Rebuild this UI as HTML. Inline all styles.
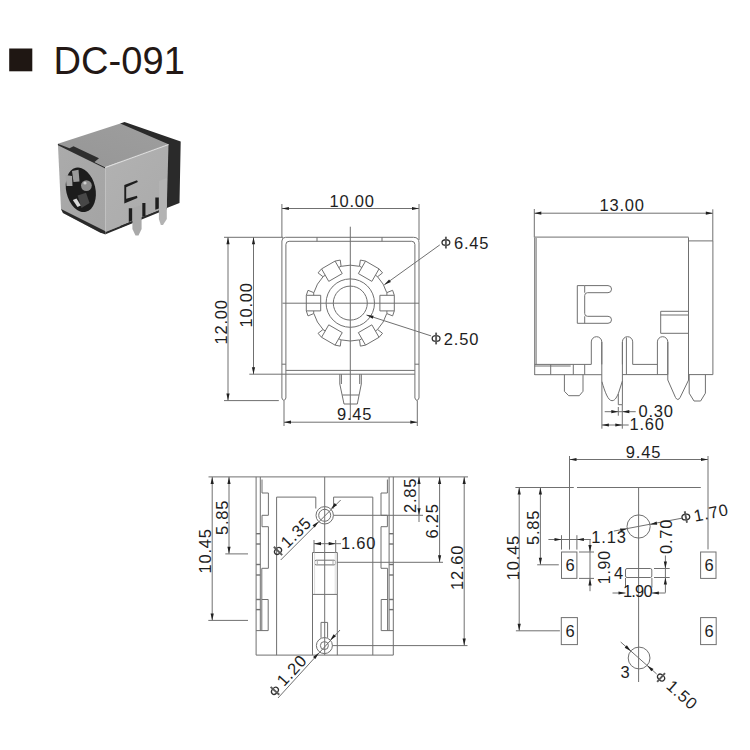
<!DOCTYPE html>
<html><head><meta charset="utf-8"><style>
html,body{margin:0;padding:0;background:#fff;width:750px;height:750px;overflow:hidden}
svg{display:block;font-family:"Liberation Sans",sans-serif}
</style></head><body>
<svg width="750" height="750" viewBox="0 0 750 750">
<rect x="9.2" y="48.5" width="23.1" height="22.8" fill="#1f1713"/><text x="53.6" y="73.6" font-size="38.1" fill="#231815" letter-spacing="0">DC-091</text>
<defs><linearGradient id="gf" x1="0" y1="0" x2="1" y2="1"><stop offset="0" stop-color="#ababab"/><stop offset="1" stop-color="#a4a4a4"/></linearGradient><linearGradient id="gt" x1="0" y1="1" x2="1" y2="0"><stop offset="0" stop-color="#969696"/><stop offset="1" stop-color="#9e9e9e"/></linearGradient><linearGradient id="gs" x1="0" y1="0" x2="1" y2="1"><stop offset="0" stop-color="#b2b2b2"/><stop offset="1" stop-color="#aaaaaa"/></linearGradient></defs>
<polygon points="120.3,123.5 124.5,121.9 180.7,141.5 179.5,203 166.8,208 120,228" fill="#2a2a2a"/>
<polygon points="57.9,143.8 120.3,123.5 168.5,144.3 105.3,167.3" fill="url(#gt)"/>
<polygon points="57.9,143.8 105.3,167.3 105.5,232 100,232.5 63,213 61,209" fill="url(#gf)"/>
<polygon points="57.9,143.8 69.5,148.2 73.5,146.3 99,158.3 94.5,162 105.3,167.3 105.3,168.6 57.9,145.2" fill="#2e2e2e"/>
<polygon points="61,209 63,213 100,232.5 105.5,234.5 105.5,231.2" fill="#2a2a2a"/>
<polygon points="105.3,167.3 168.5,144.3 166.8,207.3 105.5,232" fill="url(#gs)"/>
<polygon points="105.5,232 166.8,207.3 166.8,209.3 105.5,234.2" fill="#2a2a2a"/>
<polyline points="105.3,167.6 168.5,144.6" stroke="#dedede" stroke-width="1.1" fill="none"/>
<ellipse cx="80.8" cy="189.8" rx="14.6" ry="22.6" transform="rotate(-13 80.8 189.8)" fill="#1c1c1c"/>
<polygon points="65.5,175 72,176 72.5,186 66.5,186" fill="#a4a4a4"/>
<polygon points="72,171 78.5,169.8 79.5,181.5 73.5,182" fill="#9a9a9a"/>
<circle cx="86.4" cy="185.6" r="5.4" fill="#8c8c8c"/><circle cx="85" cy="183" r="1.6" fill="#d0d0d0"/>
<polygon points="77.6,195.5 86,192.8 89.6,203 81.5,208" fill="#474747"/>
<polygon points="72.8,200 76.5,198.6 80.8,205.5 77.5,207" fill="#d8d8d8"/>
<polygon points="124.3,185 137,180.3 137.9,182.1 126.2,187.3 126.2,198.8 137,195.7 137.4,198 124.3,203.6" fill="#1e1e1e"/>
<polygon points="128.8,208.3 132.4,208.3 132.4,220.6 128.8,222" fill="#1e1e1e"/>
<polygon points="142.3,203.1 145.9,203.1 145.9,215.5 142.3,217" fill="#1e1e1e"/>
<polygon points="155.3,197.5 158.9,197.5 158.9,208.4 155.3,209.8" fill="#1e1e1e"/>
<polygon points="132.4,208.3 132.4,229 135.5,235.4 138.5,235.4 141.6,229 141.6,205" fill="#a9a9a9"/>
<polygon points="145.5,203.1 151.9,200.5 151.9,212 145.5,215" fill="#acacac"/>
<polygon points="158.9,181 158.9,219 160.8,225.1 163,225.1 166.8,219 166.8,178" fill="#b3b3b3"/>
<g>
<line x1="281.90" y1="204.00" x2="281.90" y2="237.30" stroke="#707070" stroke-width="1.0"/>
<line x1="419.00" y1="204.00" x2="419.00" y2="240.00" stroke="#707070" stroke-width="1.0"/>
<line x1="281.90" y1="208.50" x2="419.00" y2="208.50" stroke="#707070" stroke-width="1.0"/>
<polygon points="281.90,208.50 288.90,206.90 288.90,210.10" fill="#202020"/>
<polygon points="419.00,208.50 412.00,210.10 412.00,206.90" fill="#202020"/>
<text x="329.50" y="206.80" font-size="16.5" letter-spacing="0.8" text-anchor="start" fill="#1e1e1e">10.00</text>
<path d="M281.9,398 L281.9,241 Q281.9,237.3 285.5,237.3 L413.5,237.3 Q419,237.3 419,242.8 L419,398" fill="none" stroke="#707070" stroke-width="1.0"/>
<path d="M285.9,398 L285.9,244.5 Q285.9,241.3 289.1,241.3 L411.7,241.3 Q414.9,241.3 414.9,244.5 L414.9,398" fill="none" stroke="#707070" stroke-width="1.0"/>
<path d="M281.9,398 Q283.9,403 285.9,398" fill="none" stroke="#707070" stroke-width="1.0"/>
<path d="M414.9,398 Q417,403 419,398" fill="none" stroke="#707070" stroke-width="1.0"/>
<line x1="281.90" y1="364.20" x2="285.90" y2="364.20" stroke="#707070" stroke-width="1.0"/>
<line x1="414.90" y1="364.20" x2="419.00" y2="364.20" stroke="#707070" stroke-width="1.0"/>
<line x1="317.00" y1="237.30" x2="317.00" y2="241.30" stroke="#707070" stroke-width="1.0"/>
<line x1="382.00" y1="237.30" x2="382.00" y2="241.30" stroke="#707070" stroke-width="1.0"/>
<line x1="224.00" y1="237.30" x2="283.00" y2="237.30" stroke="#707070" stroke-width="1.0"/>
<line x1="285.90" y1="370.40" x2="414.90" y2="370.40" stroke="#707070" stroke-width="1.0"/>
<line x1="249.30" y1="374.20" x2="414.90" y2="374.20" stroke="#707070" stroke-width="1.0"/>
<line x1="224.00" y1="400.60" x2="278.80" y2="400.60" stroke="#707070" stroke-width="1.0"/>
<polyline points="339.80,374.20 339.80,384.00 344.00,404.00 357.30,404.00 361.30,384.00 361.30,374.20" fill="none" stroke="#707070" stroke-width="1.0"/>
<polyline points="341.40,374.20 341.40,384.00" fill="none" stroke="#707070" stroke-width="1.0"/>
<polyline points="359.70,374.20 359.70,384.00" fill="none" stroke="#707070" stroke-width="1.0"/>
<line x1="342.30" y1="395.00" x2="359.00" y2="395.00" stroke="#707070" stroke-width="1.0"/>
<line x1="350.30" y1="226.70" x2="350.30" y2="420.00" stroke="#707070" stroke-width="1.0"/>
<line x1="282.50" y1="303.20" x2="419.00" y2="303.20" stroke="#707070" stroke-width="1.0"/>
<circle cx="350.30" cy="303.10" r="24.20" fill="none" stroke="#707070" stroke-width="1.0"/>
<circle cx="350.30" cy="303.10" r="17.00" fill="none" stroke="#707070" stroke-width="1.0"/>
<polygon points="379.90,295.30 394.30,295.30 394.30,310.90 379.90,310.90" fill="none" stroke="#707070" stroke-width="1.0"/>
<polyline points="394.30,295.30 392.60,290.30 386.90,292.60 386.90,295.30" fill="none" stroke="#707070" stroke-width="1.0"/>
<polyline points="394.30,310.90 392.60,315.90 386.90,313.60 386.90,310.90" fill="none" stroke="#707070" stroke-width="1.0"/>
<path d="M386.73,292.65 A37.9,37.9 0 0 0 377.57,276.78" fill="none" stroke="#707070" stroke-width="1.0"/>
<polygon points="358.35,273.57 365.55,261.09 379.05,268.89 371.85,281.37" fill="none" stroke="#707070" stroke-width="1.0"/>
<polyline points="365.55,261.09 360.36,260.07 359.51,266.15 361.85,267.50" fill="none" stroke="#707070" stroke-width="1.0"/>
<polyline points="379.05,268.89 382.54,272.87 377.69,276.65 375.35,275.30" fill="none" stroke="#707070" stroke-width="1.0"/>
<path d="M359.46,266.32 A37.9,37.9 0 0 0 341.14,266.32" fill="none" stroke="#707070" stroke-width="1.0"/>
<polygon points="328.75,281.37 321.55,268.89 335.05,261.09 342.25,273.57" fill="none" stroke="#707070" stroke-width="1.0"/>
<polyline points="321.55,268.89 318.06,272.87 322.91,276.65 325.25,275.30" fill="none" stroke="#707070" stroke-width="1.0"/>
<polyline points="335.05,261.09 340.24,260.07 341.09,266.15 338.75,267.50" fill="none" stroke="#707070" stroke-width="1.0"/>
<path d="M323.03,276.78 A37.9,37.9 0 0 0 313.87,292.65" fill="none" stroke="#707070" stroke-width="1.0"/>
<polygon points="320.70,310.90 306.30,310.90 306.30,295.30 320.70,295.30" fill="none" stroke="#707070" stroke-width="1.0"/>
<polyline points="306.30,310.90 308.00,315.90 313.70,313.60 313.70,310.90" fill="none" stroke="#707070" stroke-width="1.0"/>
<polyline points="306.30,295.30 308.00,290.30 313.70,292.60 313.70,295.30" fill="none" stroke="#707070" stroke-width="1.0"/>
<path d="M313.87,313.55 A37.9,37.9 0 0 0 323.03,329.42" fill="none" stroke="#707070" stroke-width="1.0"/>
<polygon points="342.25,332.63 335.05,345.11 321.55,337.31 328.75,324.83" fill="none" stroke="#707070" stroke-width="1.0"/>
<polyline points="335.05,345.11 340.24,346.13 341.09,340.05 338.75,338.70" fill="none" stroke="#707070" stroke-width="1.0"/>
<polyline points="321.55,337.31 318.06,333.33 322.91,329.55 325.25,330.90" fill="none" stroke="#707070" stroke-width="1.0"/>
<path d="M341.14,339.88 A37.9,37.9 0 0 0 359.46,339.88" fill="none" stroke="#707070" stroke-width="1.0"/>
<polygon points="371.85,324.83 379.05,337.31 365.55,345.11 358.35,332.63" fill="none" stroke="#707070" stroke-width="1.0"/>
<polyline points="379.05,337.31 382.54,333.33 377.69,329.55 375.35,330.90" fill="none" stroke="#707070" stroke-width="1.0"/>
<polyline points="365.55,345.11 360.36,346.13 359.51,340.05 361.85,338.70" fill="none" stroke="#707070" stroke-width="1.0"/>
<path d="M377.57,329.42 A37.9,37.9 0 0 0 386.73,313.55" fill="none" stroke="#707070" stroke-width="1.0"/>
<line x1="439.80" y1="244.90" x2="384.30" y2="284.80" stroke="#707070" stroke-width="1.0"/>
<polygon points="384.30,284.80 389.05,279.41 390.92,282.01" fill="#202020"/>
<line x1="431.10" y1="335.90" x2="366.50" y2="315.00" stroke="#707070" stroke-width="1.0"/>
<polygon points="366.50,315.00 373.65,315.63 372.67,318.68" fill="#202020"/>
<g><ellipse cx="445.90" cy="242.60" rx="3.9" ry="2.85" fill="none" stroke="#303030" stroke-width="1.3"/><line x1="445.90" y1="236.70" x2="445.90" y2="248.50" stroke="#5a5a5a" stroke-width="1.9"/></g>
<text x="454.00" y="248.60" font-size="16.5" letter-spacing="0.8" text-anchor="start" fill="#1e1e1e">6.45</text>
<g><ellipse cx="436.10" cy="338.50" rx="3.9" ry="2.85" fill="none" stroke="#303030" stroke-width="1.3"/><line x1="436.10" y1="332.60" x2="436.10" y2="344.40" stroke="#5a5a5a" stroke-width="1.9"/></g>
<text x="443.80" y="344.90" font-size="16.5" letter-spacing="0.8" text-anchor="start" fill="#1e1e1e">2.50</text>
<line x1="228.00" y1="237.30" x2="228.00" y2="400.60" stroke="#707070" stroke-width="1.0"/>
<polygon points="228.00,237.30 229.60,244.30 226.40,244.30" fill="#202020"/>
<polygon points="228.00,400.60 226.40,393.60 229.60,393.60" fill="#202020"/>
<line x1="253.50" y1="237.30" x2="253.50" y2="374.20" stroke="#707070" stroke-width="1.0"/>
<polygon points="253.50,237.30 255.10,244.30 251.90,244.30" fill="#202020"/>
<polygon points="253.50,374.20 251.90,367.20 255.10,367.20" fill="#202020"/>
<text x="227.00" y="344.50" font-size="16.5" letter-spacing="0.8" text-anchor="start" fill="#1e1e1e" transform="rotate(-90 227.00 344.50)">12.00</text>
<text x="251.80" y="327.50" font-size="16.5" letter-spacing="0.8" text-anchor="start" fill="#1e1e1e" transform="rotate(-90 251.80 327.50)">10.00</text>
<line x1="284.00" y1="401.00" x2="284.00" y2="426.00" stroke="#707070" stroke-width="1.0"/>
<line x1="417.30" y1="401.00" x2="417.30" y2="426.00" stroke="#707070" stroke-width="1.0"/>
<line x1="284.00" y1="422.20" x2="417.30" y2="422.20" stroke="#707070" stroke-width="1.0"/>
<polygon points="284.00,422.20 291.00,420.60 291.00,423.80" fill="#202020"/>
<polygon points="417.30,422.20 410.30,423.80 410.30,420.60" fill="#202020"/>
<text x="337.00" y="419.80" font-size="16.5" letter-spacing="0.8" text-anchor="start" fill="#1e1e1e">9.45</text>
<line x1="534.30" y1="209.00" x2="534.30" y2="237.40" stroke="#707070" stroke-width="1.0"/>
<line x1="712.80" y1="209.30" x2="712.80" y2="240.90" stroke="#707070" stroke-width="1.0"/>
<line x1="534.30" y1="213.20" x2="712.80" y2="213.20" stroke="#707070" stroke-width="1.0"/>
<polygon points="534.30,213.20 541.30,211.60 541.30,214.80" fill="#202020"/>
<polygon points="712.80,213.20 705.80,214.80 705.80,211.60" fill="#202020"/>
<text x="599.50" y="211.00" font-size="16.5" letter-spacing="0.8" text-anchor="start" fill="#1e1e1e">13.00</text>
<line x1="534.70" y1="237.10" x2="688.50" y2="237.10" stroke="#707070" stroke-width="1.0"/>
<line x1="534.70" y1="237.40" x2="534.70" y2="375.00" stroke="#707070" stroke-width="1.0"/>
<line x1="536.10" y1="238.00" x2="536.10" y2="364.40" stroke="#707070" stroke-width="1.0"/>
<line x1="688.50" y1="237.40" x2="688.50" y2="380.00" stroke="#707070" stroke-width="1.0"/>
<polyline points="688.50,240.90 712.90,240.90 712.90,374.60 688.50,374.60" fill="none" stroke="#707070" stroke-width="1.0"/>
<polyline points="688.50,311.30 660.70,311.30 660.70,333.30 688.50,333.30" fill="none" stroke="#707070" stroke-width="1.0"/>
<line x1="660.70" y1="315.00" x2="688.50" y2="315.00" stroke="#707070" stroke-width="1.0"/>
<path d="M608,285.6 L584.7,285.6 L577.3,285.6 L577.3,323.3 L608,323.3 A3.5,3.5 0 0 0 608,316.3 L587.5,316.3 Q584.7,316.3 584.7,313.5 L584.7,295.5 Q584.7,292.7 587.5,292.7 L608,292.7 A3.5,3.5 0 0 0 608,285.6" fill="none" stroke="#707070" stroke-width="1.0"/>
<line x1="584.70" y1="285.60" x2="584.70" y2="292.70" stroke="#707070" stroke-width="1.0"/>
<line x1="584.70" y1="316.30" x2="584.70" y2="323.30" stroke="#707070" stroke-width="1.0"/>
<line x1="534.70" y1="364.40" x2="591.30" y2="364.40" stroke="#707070" stroke-width="1.0"/>
<line x1="534.70" y1="366.00" x2="570.70" y2="366.00" stroke="#707070" stroke-width="1.0"/>
<line x1="534.70" y1="374.70" x2="601.80" y2="374.70" stroke="#707070" stroke-width="1.0"/>
<line x1="550.70" y1="364.40" x2="550.70" y2="374.70" stroke="#707070" stroke-width="1.0"/>
<line x1="573.30" y1="364.40" x2="573.30" y2="374.70" stroke="#707070" stroke-width="1.0"/>
<line x1="584.70" y1="364.40" x2="584.70" y2="374.70" stroke="#707070" stroke-width="1.0"/>
<path d="M591.3,364.4 L591.3,341.95 A5.25,5.25 0 0 1 601.8,341.95 L601.8,364.4" fill="none" stroke="#707070" stroke-width="1.0"/>
<line x1="601.80" y1="342.00" x2="601.80" y2="381.50" stroke="#707070" stroke-width="1.0"/>
<path d="M622.4,364.4 L622.4,341.85 A5.150000000000034,5.150000000000034 0 0 1 632.7,341.85 L632.7,364.4" fill="none" stroke="#707070" stroke-width="1.0"/>
<line x1="622.40" y1="342.00" x2="622.40" y2="381.00" stroke="#707070" stroke-width="1.0"/>
<line x1="626.40" y1="337.50" x2="626.40" y2="374.60" stroke="#707070" stroke-width="1.0"/>
<line x1="632.70" y1="364.40" x2="657.40" y2="364.40" stroke="#707070" stroke-width="1.0"/>
<path d="M657.4,374.6 L657.4,341.9 A5.199999999999989,5.199999999999989 0 0 1 667.8,341.9 L667.8,374.6" fill="none" stroke="#707070" stroke-width="1.0"/>
<line x1="667.80" y1="342.00" x2="667.80" y2="380.00" stroke="#707070" stroke-width="1.0"/>
<line x1="622.40" y1="374.60" x2="667.80" y2="374.60" stroke="#707070" stroke-width="1.0"/>
<path d="M601.8,381.5 C605,392 608,400.7 612,400.7 C615.5,400.7 617,396 618.3,393.7 L622.4,381" fill="none" stroke="#707070" stroke-width="1.0"/>
<polyline points="618.30,393.70 618.30,404.70 622.40,404.70 622.40,381.00" fill="none" stroke="#707070" stroke-width="1.0"/>
<path d="M667.8,380 L675.5,397.5 Q677.8,401.5 680.1,397.5 L688.6,380" fill="none" stroke="#707070" stroke-width="1.0"/>
<polyline points="564.40,374.70 564.40,391.30 568.70,395.70 579.30,395.70 583.00,391.30 583.00,374.70" fill="none" stroke="#707070" stroke-width="1.0"/>
<polyline points="689.20,374.60 689.20,393.20 694.00,401.00 700.60,401.00 705.40,393.20 705.40,374.60" fill="none" stroke="#707070" stroke-width="1.0"/>
<line x1="601.90" y1="381.50" x2="601.90" y2="428.70" stroke="#707070" stroke-width="1.0"/>
<line x1="622.30" y1="404.70" x2="622.30" y2="428.70" stroke="#707070" stroke-width="1.0"/>
<line x1="618.30" y1="407.00" x2="618.30" y2="415.70" stroke="#707070" stroke-width="1.0"/>
<line x1="604.70" y1="411.70" x2="635.70" y2="411.70" stroke="#707070" stroke-width="1.0"/>
<polygon points="618.30,411.70 611.30,413.30 611.30,410.10" fill="#202020"/>
<polygon points="622.30,411.70 629.30,410.10 629.30,413.30" fill="#202020"/>
<line x1="601.90" y1="425.00" x2="628.70" y2="425.00" stroke="#707070" stroke-width="1.0"/>
<polygon points="601.90,425.00 608.90,423.40 608.90,426.60" fill="#202020"/>
<polygon points="622.30,425.00 615.30,426.60 615.30,423.40" fill="#202020"/>
<text x="638.50" y="417.40" font-size="16.5" letter-spacing="0.8" text-anchor="start" fill="#1e1e1e">0.30</text>
<text x="629.50" y="429.70" font-size="16.5" letter-spacing="0.8" text-anchor="start" fill="#1e1e1e">1.60</text>
<line x1="208.50" y1="476.90" x2="468.00" y2="476.90" stroke="#707070" stroke-width="1.0"/>
<line x1="212.20" y1="476.90" x2="212.20" y2="620.40" stroke="#707070" stroke-width="1.0"/>
<polygon points="212.20,476.90 213.80,483.90 210.60,483.90" fill="#202020"/>
<polygon points="212.20,620.40 210.60,613.40 213.80,613.40" fill="#202020"/>
<line x1="229.00" y1="476.90" x2="229.00" y2="553.80" stroke="#707070" stroke-width="1.0"/>
<polygon points="229.00,476.90 230.60,483.90 227.40,483.90" fill="#202020"/>
<polygon points="229.00,553.80 227.40,546.80 230.60,546.80" fill="#202020"/>
<line x1="225.30" y1="553.90" x2="248.00" y2="553.90" stroke="#707070" stroke-width="1.0"/>
<line x1="208.30" y1="620.40" x2="248.00" y2="620.40" stroke="#707070" stroke-width="1.0"/>
<text x="211.20" y="573.50" font-size="16.5" letter-spacing="0.8" text-anchor="start" fill="#1e1e1e" transform="rotate(-90 211.20 573.50)">10.45</text>
<text x="228.40" y="535.00" font-size="16.5" letter-spacing="0.8" text-anchor="start" fill="#1e1e1e" transform="rotate(-90 228.40 535.00)">5.85</text>
<polyline points="256.10,476.90 256.10,655.10 393.30,655.10 393.30,476.90" fill="none" stroke="#707070" stroke-width="1.0"/>
<line x1="260.30" y1="477.00" x2="260.30" y2="630.60" stroke="#707070" stroke-width="1.0"/>
<polyline points="262.00,479.50 262.00,493.00 268.40,493.00 268.40,515.30 262.00,515.30 262.00,526.70 268.40,526.70 268.40,568.30 261.80,568.30 261.80,630.60" fill="none" stroke="#707070" stroke-width="1.0"/>
<polyline points="261.80,599.50 268.20,599.50 268.20,630.60 256.10,630.60" fill="none" stroke="#707070" stroke-width="1.0"/>
<line x1="256.10" y1="533.70" x2="260.30" y2="533.70" stroke="#707070" stroke-width="1.4"/>
<line x1="256.10" y1="544.00" x2="260.30" y2="544.00" stroke="#707070" stroke-width="1.4"/>
<line x1="256.10" y1="564.50" x2="260.30" y2="564.50" stroke="#707070" stroke-width="1.4"/>
<line x1="256.10" y1="575.00" x2="260.30" y2="575.00" stroke="#707070" stroke-width="1.4"/>
<line x1="256.10" y1="599.50" x2="260.30" y2="599.50" stroke="#707070" stroke-width="1.4"/>
<line x1="256.10" y1="609.60" x2="260.30" y2="609.60" stroke="#707070" stroke-width="1.4"/>
<line x1="276.60" y1="655.10" x2="276.60" y2="497.10" stroke="#707070" stroke-width="1.0"/>
<polyline points="276.60,497.10 315.80,497.10 315.80,508.50" fill="none" stroke="#707070" stroke-width="1.0"/>
<line x1="389.10" y1="477.00" x2="389.10" y2="630.60" stroke="#707070" stroke-width="1.0"/>
<polyline points="387.40,479.50 387.40,493.00 381.00,493.00 381.00,515.30 387.40,515.30 387.40,526.70 381.00,526.70 381.00,568.30 387.60,568.30 387.60,630.60" fill="none" stroke="#707070" stroke-width="1.0"/>
<polyline points="387.60,599.50 381.20,599.50 381.20,630.60 393.30,630.60" fill="none" stroke="#707070" stroke-width="1.0"/>
<line x1="393.30" y1="533.70" x2="389.10" y2="533.70" stroke="#707070" stroke-width="1.4"/>
<line x1="393.30" y1="544.00" x2="389.10" y2="544.00" stroke="#707070" stroke-width="1.4"/>
<line x1="393.30" y1="564.50" x2="389.10" y2="564.50" stroke="#707070" stroke-width="1.4"/>
<line x1="393.30" y1="575.00" x2="389.10" y2="575.00" stroke="#707070" stroke-width="1.4"/>
<line x1="393.30" y1="599.50" x2="389.10" y2="599.50" stroke="#707070" stroke-width="1.4"/>
<line x1="393.30" y1="609.60" x2="389.10" y2="609.60" stroke="#707070" stroke-width="1.4"/>
<line x1="372.80" y1="655.10" x2="372.80" y2="497.10" stroke="#707070" stroke-width="1.0"/>
<polyline points="372.80,497.10 333.60,497.10 333.60,508.50" fill="none" stroke="#707070" stroke-width="1.0"/>
<line x1="324.70" y1="476.90" x2="324.70" y2="655.10" stroke="#707070" stroke-width="1.0"/>
<circle cx="324.70" cy="515.30" r="8.70" fill="none" stroke="#707070" stroke-width="1.0"/>
<circle cx="324.70" cy="515.30" r="6.00" fill="none" stroke="#707070" stroke-width="1.0"/>
<line x1="333.50" y1="515.30" x2="423.00" y2="515.30" stroke="#707070" stroke-width="1.0"/>
<line x1="280.70" y1="560.00" x2="340.70" y2="500.00" stroke="#707070" stroke-width="1.0"/>
<polygon points="318.60,521.40 314.78,527.48 312.52,525.22" fill="#202020"/>
<polygon points="330.90,509.10 334.72,503.02 336.98,505.28" fill="#202020"/>
<text x="287.58" y="549.03" font-size="16.5" letter-spacing="0.8" text-anchor="start" fill="#1e1e1e" transform="rotate(-45 287.58 549.03)">1.35</text>
<g transform="rotate(-45 278.03 550.94)"><ellipse cx="278.03" cy="550.94" rx="3.9" ry="2.85" fill="none" stroke="#303030" stroke-width="1.3"/><line x1="278.03" y1="545.04" x2="278.03" y2="556.84" stroke="#5a5a5a" stroke-width="1.9"/></g>
<line x1="314.00" y1="540.00" x2="314.00" y2="552.70" stroke="#707070" stroke-width="1.0"/>
<line x1="335.70" y1="540.00" x2="335.70" y2="552.70" stroke="#707070" stroke-width="1.0"/>
<line x1="314.00" y1="543.70" x2="341.00" y2="543.70" stroke="#707070" stroke-width="1.0"/>
<polygon points="314.00,543.70 321.00,542.10 321.00,545.30" fill="#202020"/>
<polygon points="335.70,543.70 328.70,545.30 328.70,542.10" fill="#202020"/>
<text x="341.00" y="548.60" font-size="16.5" letter-spacing="0.8" text-anchor="start" fill="#1e1e1e">1.60</text>
<polyline points="312.50,655.10 312.50,552.50 337.30,552.50 337.30,655.10" fill="none" stroke="#707070" stroke-width="1.0"/>
<rect x="314.6" y="560.2" width="21" height="4.7" rx="1.6" fill="none" stroke="#707070" stroke-width="1"/>
<line x1="314.60" y1="552.70" x2="314.60" y2="594.40" stroke="#dddddd" stroke-width="1.0"/>
<line x1="335.20" y1="552.70" x2="335.20" y2="594.40" stroke="#dddddd" stroke-width="1.0"/>
<line x1="317.30" y1="560.20" x2="317.30" y2="564.90" stroke="#aaa" stroke-width="1.0"/>
<line x1="333.00" y1="560.20" x2="333.00" y2="564.90" stroke="#aaa" stroke-width="1.0"/>
<line x1="337.00" y1="562.30" x2="443.00" y2="562.30" stroke="#707070" stroke-width="1.0"/>
<line x1="312.90" y1="594.40" x2="337.00" y2="594.40" stroke="#707070" stroke-width="1.0"/>
<circle cx="324.40" cy="645.60" r="8.00" fill="none" stroke="#707070" stroke-width="1.0"/>
<circle cx="324.40" cy="645.60" r="4.00" fill="none" stroke="#707070" stroke-width="1.0"/>
<polyline points="321.00,637.80 321.00,622.40 327.60,622.40 327.60,637.80" fill="none" stroke="#707070" stroke-width="1.0"/>
<line x1="332.40" y1="645.60" x2="467.50" y2="645.60" stroke="#707070" stroke-width="1.0"/>
<line x1="278.00" y1="698.00" x2="340.00" y2="630.00" stroke="#707070" stroke-width="1.0"/>
<polygon points="318.90,652.80 315.38,659.06 313.01,656.90" fill="#202020"/>
<polygon points="330.10,640.40 333.62,634.14 335.99,636.30" fill="#202020"/>
<text x="284.07" y="687.25" font-size="16.5" letter-spacing="0.8" text-anchor="start" fill="#1e1e1e" transform="rotate(-47.4 284.07 687.25)">1.20</text>
<g transform="rotate(-47.4 274.95 690.82)"><ellipse cx="274.95" cy="690.82" rx="3.9" ry="2.85" fill="none" stroke="#303030" stroke-width="1.3"/><line x1="274.95" y1="684.92" x2="274.95" y2="696.72" stroke="#5a5a5a" stroke-width="1.9"/></g>
<line x1="419.00" y1="476.90" x2="419.00" y2="522.00" stroke="#707070" stroke-width="1.0"/>
<polygon points="419.00,476.90 420.60,483.90 417.40,483.90" fill="#202020"/>
<polygon points="419.00,515.30 417.40,508.30 420.60,508.30" fill="#202020"/>
<line x1="439.60" y1="476.90" x2="439.60" y2="562.30" stroke="#707070" stroke-width="1.0"/>
<polygon points="439.60,476.90 441.20,483.90 438.00,483.90" fill="#202020"/>
<polygon points="439.60,562.30 438.00,555.30 441.20,555.30" fill="#202020"/>
<line x1="464.20" y1="476.90" x2="464.20" y2="645.60" stroke="#707070" stroke-width="1.0"/>
<polygon points="464.20,476.90 465.80,483.90 462.60,483.90" fill="#202020"/>
<polygon points="464.20,645.60 462.60,638.60 465.80,638.60" fill="#202020"/>
<text x="416.20" y="513.00" font-size="16.5" letter-spacing="0.8" text-anchor="start" fill="#1e1e1e" transform="rotate(-90 416.20 513.00)">2.85</text>
<text x="437.90" y="538.50" font-size="16.5" letter-spacing="0.8" text-anchor="start" fill="#1e1e1e" transform="rotate(-90 437.90 538.50)">6.25</text>
<text x="462.50" y="590.00" font-size="16.5" letter-spacing="0.8" text-anchor="start" fill="#1e1e1e" transform="rotate(-90 462.50 590.00)">12.60</text>
<line x1="569.50" y1="456.00" x2="569.50" y2="549.60" stroke="#707070" stroke-width="1.0"/>
<line x1="708.00" y1="456.00" x2="708.00" y2="549.40" stroke="#707070" stroke-width="1.0"/>
<line x1="569.50" y1="459.50" x2="708.00" y2="459.50" stroke="#707070" stroke-width="1.0"/>
<polygon points="569.50,459.50 576.50,457.90 576.50,461.10" fill="#202020"/>
<polygon points="708.00,459.50 701.00,461.10 701.00,457.90" fill="#202020"/>
<text x="625.80" y="458.40" font-size="16.5" letter-spacing="0.8" text-anchor="start" fill="#1e1e1e">9.45</text>
<line x1="515.40" y1="487.50" x2="573.80" y2="487.50" stroke="#707070" stroke-width="1.0"/>
<line x1="577.00" y1="487.50" x2="700.80" y2="487.50" stroke="#707070" stroke-width="1.0"/>
<line x1="519.20" y1="487.50" x2="519.20" y2="630.80" stroke="#707070" stroke-width="1.0"/>
<polygon points="519.20,487.50 520.80,494.50 517.60,494.50" fill="#202020"/>
<polygon points="519.20,630.80 517.60,623.80 520.80,623.80" fill="#202020"/>
<line x1="540.40" y1="487.50" x2="540.40" y2="564.80" stroke="#707070" stroke-width="1.0"/>
<polygon points="540.40,487.50 542.00,494.50 538.80,494.50" fill="#202020"/>
<polygon points="540.40,564.80 538.80,557.80 542.00,557.80" fill="#202020"/>
<line x1="537.20" y1="564.80" x2="558.80" y2="564.80" stroke="#707070" stroke-width="1.0"/>
<line x1="515.90" y1="630.80" x2="559.90" y2="630.80" stroke="#707070" stroke-width="1.0"/>
<text x="519.50" y="580.20" font-size="16.5" letter-spacing="0.8" text-anchor="start" fill="#1e1e1e" transform="rotate(-90 519.50 580.20)">10.45</text>
<text x="539.00" y="545.00" font-size="16.5" letter-spacing="0.8" text-anchor="start" fill="#1e1e1e" transform="rotate(-90 539.00 545.00)">5.85</text>
<rect x="561.50" y="552.00" width="15.40" height="26.40" fill="none" stroke="#707070" stroke-width="1.0"/>
<text x="570.00" y="571.40" font-size="16.5" letter-spacing="0" text-anchor="middle" fill="#1e1e1e">6</text>
<rect x="700.60" y="552.00" width="15.40" height="26.40" fill="none" stroke="#707070" stroke-width="1.0"/>
<text x="709.10" y="571.40" font-size="16.5" letter-spacing="0" text-anchor="middle" fill="#1e1e1e">6</text>
<rect x="561.30" y="617.60" width="16.10" height="27.00" fill="none" stroke="#707070" stroke-width="1.0"/>
<text x="570.15" y="637.30" font-size="16.5" letter-spacing="0" text-anchor="middle" fill="#1e1e1e">6</text>
<rect x="700.60" y="617.60" width="15.60" height="27.00" fill="none" stroke="#707070" stroke-width="1.0"/>
<text x="709.20" y="637.30" font-size="16.5" letter-spacing="0" text-anchor="middle" fill="#1e1e1e">6</text>
<line x1="638.60" y1="487.50" x2="638.60" y2="682.00" stroke="#707070" stroke-width="1.0"/>
<circle cx="638.60" cy="526.50" r="11.60" fill="none" stroke="#707070" stroke-width="1.0"/>
<line x1="613.80" y1="531.10" x2="681.90" y2="518.20" stroke="#707070" stroke-width="1.0"/>
<polygon points="627.20,528.80 620.62,531.68 620.02,528.53" fill="#202020"/>
<polygon points="650.00,524.40 656.58,521.52 657.18,524.67" fill="#202020"/>
<g transform="rotate(-11 685.86 517.01)"><ellipse cx="685.86" cy="517.01" rx="3.9" ry="2.85" fill="none" stroke="#303030" stroke-width="1.3"/><line x1="685.86" y1="511.11" x2="685.86" y2="522.91" stroke="#5a5a5a" stroke-width="1.9"/></g>
<text x="695.01" y="521.65" font-size="16.5" letter-spacing="0.8" text-anchor="start" fill="#1e1e1e" transform="rotate(-11 695.01 521.65)">1.70</text>
<line x1="561.50" y1="535.20" x2="561.50" y2="549.60" stroke="#707070" stroke-width="1.0"/>
<line x1="576.90" y1="535.20" x2="576.90" y2="549.60" stroke="#707070" stroke-width="1.0"/>
<line x1="548.40" y1="539.50" x2="590.80" y2="539.50" stroke="#707070" stroke-width="1.0"/>
<polygon points="561.50,539.50 554.50,541.10 554.50,537.90" fill="#202020"/>
<polygon points="576.90,539.50 583.90,537.90 583.90,541.10" fill="#202020"/>
<text x="591.20" y="542.70" font-size="16.5" letter-spacing="0.9" text-anchor="start" fill="#1e1e1e">1.13</text>
<line x1="579.00" y1="552.00" x2="594.00" y2="552.00" stroke="#707070" stroke-width="1.0"/>
<line x1="579.00" y1="578.40" x2="594.00" y2="578.40" stroke="#707070" stroke-width="1.0"/>
<line x1="590.00" y1="539.50" x2="590.00" y2="591.20" stroke="#707070" stroke-width="1.0"/>
<polygon points="590.00,552.00 588.40,545.00 591.60,545.00" fill="#202020"/>
<polygon points="590.00,578.40 591.60,585.40 588.40,585.40" fill="#202020"/>
<text x="609.60" y="584.20" font-size="15.8" letter-spacing="0.8" text-anchor="start" fill="#1e1e1e" transform="rotate(-90 609.60 584.20)">1.90</text>
<text x="613.90" y="579.40" font-size="16.5" letter-spacing="0" text-anchor="start" fill="#1e1e1e">4</text>
<rect x="625.5" y="568.5" width="26.3" height="9.0" rx="1.5" fill="none" stroke="#707070" stroke-width="1"/>
<line x1="654.00" y1="568.50" x2="669.70" y2="568.50" stroke="#707070" stroke-width="1.0"/>
<line x1="654.00" y1="577.50" x2="669.70" y2="577.50" stroke="#707070" stroke-width="1.0"/>
<line x1="665.40" y1="555.50" x2="665.40" y2="592.70" stroke="#707070" stroke-width="1.0"/>
<polygon points="665.40,568.50 663.80,561.50 667.00,561.50" fill="#202020"/>
<polygon points="665.40,577.50 667.00,584.50 663.80,584.50" fill="#202020"/>
<text x="672.00" y="554.00" font-size="16.5" letter-spacing="0.8" text-anchor="start" fill="#1e1e1e" transform="rotate(-90 672.00 554.00)">0.70</text>
<line x1="625.50" y1="578.00" x2="625.50" y2="587.50" stroke="#707070" stroke-width="1.0"/>
<line x1="651.90" y1="578.00" x2="651.90" y2="587.50" stroke="#707070" stroke-width="1.0"/>
<line x1="612.50" y1="593.00" x2="625.50" y2="593.00" stroke="#707070" stroke-width="1.0"/>
<line x1="651.90" y1="593.00" x2="665.40" y2="593.00" stroke="#707070" stroke-width="1.0"/>
<polygon points="625.50,593.00 618.50,594.60 618.50,591.40" fill="#202020"/>
<polygon points="651.90,593.00 658.90,591.40 658.90,594.60" fill="#202020"/>
<text x="622.90" y="597.20" font-size="16.5" letter-spacing="-0.8" text-anchor="start" fill="#1e1e1e">1.90</text>
<circle cx="639.10" cy="658.00" r="10.90" fill="none" stroke="#707070" stroke-width="1.0"/>
<line x1="620.70" y1="642.00" x2="656.70" y2="674.00" stroke="#707070" stroke-width="1.0"/>
<polygon points="631.00,651.20 624.71,647.74 626.83,645.35" fill="#202020"/>
<polygon points="647.20,665.50 653.49,668.96 651.37,671.35" fill="#202020"/>
<text x="620.60" y="678.30" font-size="16.5" letter-spacing="0" text-anchor="start" fill="#1e1e1e">3</text>
<g transform="rotate(41.6 661.09 677.52)"><ellipse cx="661.09" cy="677.52" rx="3.9" ry="2.85" fill="none" stroke="#303030" stroke-width="1.3"/><line x1="661.09" y1="671.62" x2="661.09" y2="683.42" stroke="#5a5a5a" stroke-width="1.9"/></g>
<text x="665.14" y="687.41" font-size="16.5" letter-spacing="0.8" text-anchor="start" fill="#1e1e1e" transform="rotate(41.6 665.14 687.41)">1.50</text>
</g>
</svg></body></html>
